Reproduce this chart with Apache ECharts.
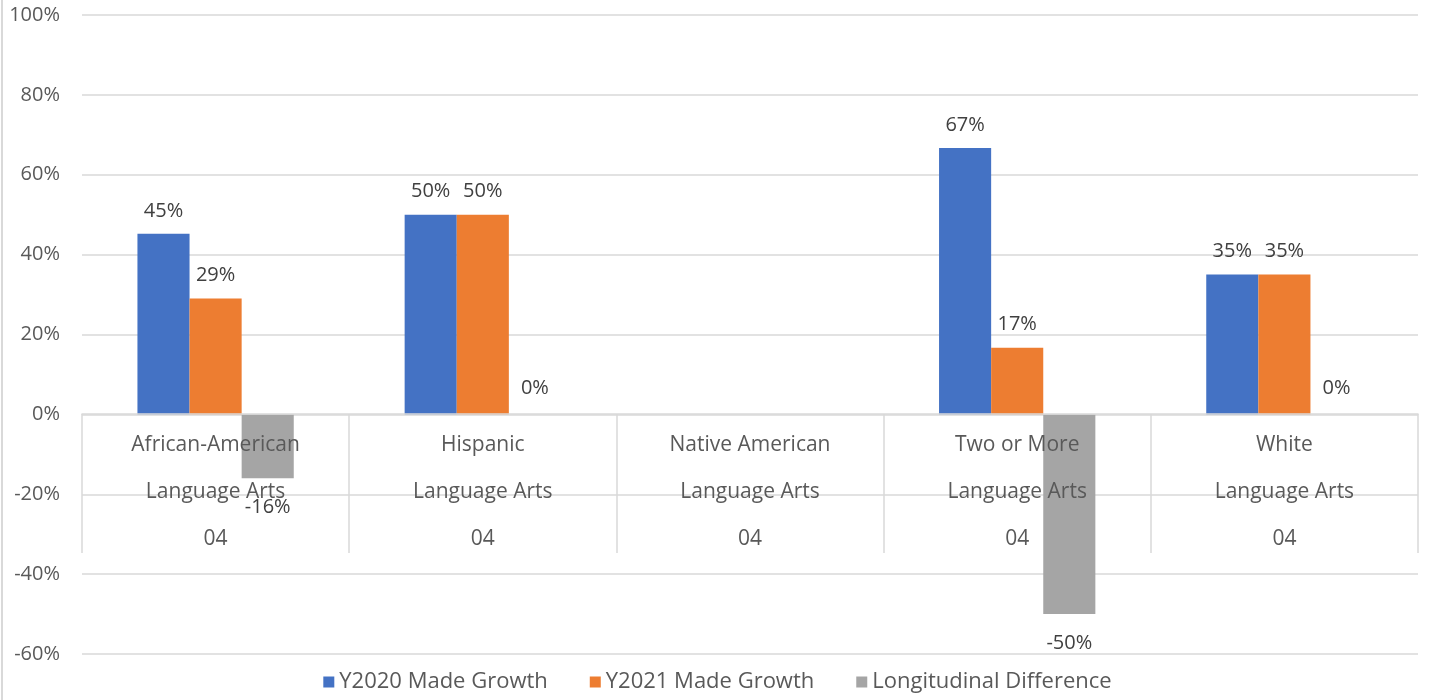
<!DOCTYPE html>
<html>
<head>
<meta charset="utf-8">
<script src="https://cdn.jsdelivr.net/npm/echarts@6/dist/echarts.min.js"></script>
<style>
  html, body { margin: 0; padding: 0; background: #fff; }
  #frame { position: absolute; left: 1px; top: 0; width: 2px; height: 700px; background: #d9d9d9; }
  #chart { width: 1435px; height: 700px; }
</style>
</head>
<body>
<div id="chart"></div>
<div id="frame"></div>
<script>
const groups = ['African-American', 'Hispanic', 'Native American', 'Two or More', 'White']
const subjects = ['Language Arts', 'Language Arts', 'Language Arts', 'Language Arts', 'Language Arts']
const grades = ['04', '04', '04', '04', '04']
const y2020 = [45.2, 50, null, 66.7, 35]
const y2021 = [29, 50, null, 16.7, 35]
const diff = [-16, 0, null, -50, 0]
const yTicks = { min : -60, max : 100, interval : 20 }

const FONT = '"Open Sans", sans-serif'
const TEXT = '#595959'
const LINE = '#d9d9d9'

const chart = echarts.init( document.getElementById( 'chart' ) )

const barLabel = ( dist ) => ( {
  show : true,
  position : 'top',
  distance : dist,
  color : '#404040',
  fontFamily : FONT,
  fontSize : 20,
  formatter : ( p ) => p.value == null ? '' : Math.round( p.value ) + '%'
} )

// negative bars get their label under the bar end, zero/positive above
const withLabelSide = ( arr ) => arr.map( ( v ) => ( {
  value : v,
  label : v != null && v < 0 ? { position : 'outside', distance : 19 } : { position : 'top' }
} ) )

chart.setOption( {
  animation : false,
  color : ['#4472C4', '#ED7D31', '#A5A5A5'],
  textStyle : { fontFamily : FONT },
  grid : {
    left : 82,
    right : 17,
    top : 15,
    bottom : 46,
    outerBoundsMode : 'none',
    containLabel : false
  },
  legend : {
    bottom : 2,
    left : 'center',
    icon : 'rect',
    itemWidth : 11,
    itemHeight : 11,
    itemGap : 42,
    textStyle : { color : TEXT, fontSize : 22, fontFamily : FONT }
  },
  xAxis : {
    type : 'category',
    data : groups,
    position : 'bottom',
    offset : -240, // sits on the 0% line like the spreadsheet axis
    z : 5,
    axisLine : { onZero : false, lineStyle : { color : LINE, width : 1.5 } },
    axisTick : { show : true, inside : false, length : 139, interval : 0, lineStyle : { color : LINE, width : 1.5 } },
    axisLabel : {
      interval : 0,
      margin : 8,
      color : TEXT,
      fontFamily : FONT,
      fontSize : 21,
      lineHeight : 47,
      formatter : ( v, i ) => v + '\n' + subjects[i] + '\n' + grades[i]
    }
  },
  yAxis : {
    type : 'value',
    min : yTicks.min,
    max : yTicks.max,
    interval : yTicks.interval,
    axisLine : { show : false },
    axisTick : { show : false },
    axisLabel : {
      margin : 22,
      color : TEXT,
      fontFamily : FONT,
      fontSize : 20,
      formatter : '{value}%'
    },
    splitLine : { lineStyle : { color : LINE, width : 1.5 } }
  },
  series : [
    {
      name : 'Y2020 Made Growth',
      type : 'bar',
      barWidth : '19.5%',
      barGap : 0,
      label : barLabel( 13 ),
      data : y2020
    },
    {
      name : 'Y2021 Made Growth',
      type : 'bar',
      barWidth : '19.5%',
      barGap : 0,
      label : barLabel( 13 ),
      data : y2021
    },
    {
      name : 'Longitudinal Difference',
      type : 'bar',
      barWidth : '19.5%',
      barGap : 0,
      label : barLabel( 16 ),
      data : withLabelSide( diff )
    }
  ]
} )
</script>
</body>
</html>
